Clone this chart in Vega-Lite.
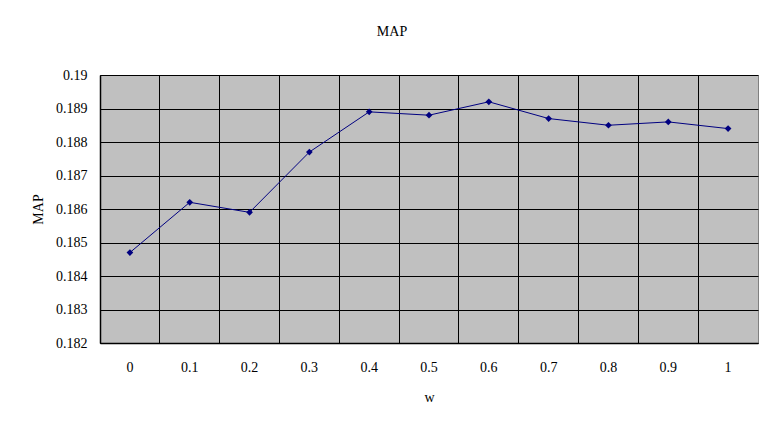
{
  "$schema": "https://vega.github.io/schema/vega-lite/v6.json",
  "width": 658,
  "height": 268,
  "autosize": {"type": "none"},
  "padding": {"left": 100, "top": 75, "right": 14, "bottom": 85},
  "background": "white",
  "title": {"text": "MAP", "font": "Liberation Serif", "fontSize": 14, "fontWeight": "normal", "color": "black", "anchor": "middle", "frame": "group", "dx": -37, "offset": 29},
  "data": {"values": [
    {"w": "0", "MAP": 0.1847},
    {"w": "0.1", "MAP": 0.1862},
    {"w": "0.2", "MAP": 0.1859},
    {"w": "0.3", "MAP": 0.1877},
    {"w": "0.4", "MAP": 0.1889},
    {"w": "0.5", "MAP": 0.1888},
    {"w": "0.6", "MAP": 0.1892},
    {"w": "0.7", "MAP": 0.1887},
    {"w": "0.8", "MAP": 0.1885},
    {"w": "0.9", "MAP": 0.1886},
    {"w": "1", "MAP": 0.1884}
  ]},
  "encoding": {
    "x": {"field": "w", "type": "ordinal", "sort": null,
      "scale": {"type": "band", "paddingInner": 0, "paddingOuter": 0},
      "axis": {"title": "w", "labelAngle": 0, "bandPosition": 0, "grid": true, "gridColor": "black", "gridWidth": 1, "gridOpacity": 1, "ticks": false, "domainColor": "black", "domainWidth": 1.5, "labelPadding": 17, "titlePadding": 16, "labelFontSize": 14, "titleFontSize": 14, "titleFontWeight": "normal", "labelFont": "Liberation Serif", "titleFont": "Liberation Serif", "labelColor": "black", "titleColor": "black"}},
    "y": {"field": "MAP", "type": "quantitative",
      "scale": {"domain": [0.182, 0.19], "nice": false, "zero": false},
      "axis": {"title": "MAP", "values": [0.182, 0.183, 0.184, 0.185, 0.186, 0.187, 0.188, 0.189, 0.19], "format": "~g", "grid": true, "gridColor": "black", "gridWidth": 1, "gridOpacity": 1, "ticks": false, "domainColor": "black", "domainWidth": 1.5, "labelPadding": 13, "titlePadding": 10, "labelFontSize": 14, "titleFontSize": 14, "titleFontWeight": "normal", "labelFont": "Liberation Serif", "titleFont": "Liberation Serif", "labelColor": "black", "titleColor": "black"}}
  },
  "layer": [
    {"mark": {"type": "line", "color": "#000080", "strokeWidth": 1}},
    {"mark": {"type": "point", "shape": "diamond", "filled": true, "color": "#000080", "opacity": 1, "size": 45}}
  ],
  "config": {
    "view": {"fill": "#c0c0c0", "stroke": "#808080", "strokeWidth": 1}
  }
}
